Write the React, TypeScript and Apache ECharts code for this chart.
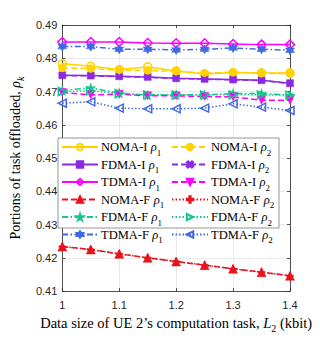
import React, { useEffect, useRef } from "react";
import * as echarts from "echarts";

const xs = [1, 1.05, 1.1, 1.15, 1.2, 1.25, 1.3, 1.35, 1.4];
const xTicks = [1, 1.1, 1.2, 1.3, 1.4];
const yTicks = [0.41, 0.42, 0.43, 0.44, 0.45, 0.46, 0.47, 0.48, 0.49];

const nomaI1 = [0.4784, 0.4776, 0.4766, 0.4774, 0.4762, 0.4753, 0.4757, 0.4756, 0.4756];
const nomaI2 = [0.4771, 0.4769, 0.4764, 0.4763, 0.4761, 0.4755, 0.4758, 0.4755, 0.4754];
const fdmaI1 = [0.4749, 0.4748, 0.4746, 0.4744, 0.474, 0.4738, 0.4736, 0.4734, 0.4725];
const fdmaI2 = [0.4748, 0.4747, 0.4745, 0.4743, 0.4739, 0.4737, 0.4735, 0.4733, 0.4724];
const tdmaI1 = [0.4849, 0.4849, 0.4849, 0.4846, 0.4845, 0.4845, 0.4843, 0.4841, 0.4841];
const tdmaI2 = [0.4697, 0.469, 0.4692, 0.4687, 0.4687, 0.4685, 0.4684, 0.4674, 0.4674];
const nomaF1 = [0.4234, 0.4225, 0.4212, 0.42, 0.4189, 0.4178, 0.4167, 0.4157, 0.4146];
const nomaF2 = [0.4234, 0.4225, 0.4212, 0.42, 0.4189, 0.4178, 0.4167, 0.4157, 0.4146];
const fdmaF1 = [0.4703, 0.4711, 0.4695, 0.4689, 0.469, 0.469, 0.4694, 0.4694, 0.4689];
const fdmaF2 = [0.47, 0.4702, 0.4694, 0.469, 0.469, 0.469, 0.469, 0.469, 0.4689];
const tdmaF1 = [0.4835, 0.4835, 0.4827, 0.4827, 0.4825, 0.4827, 0.4831, 0.4827, 0.4824];
const tdmaF2 = [0.4665, 0.4669, 0.465, 0.4648, 0.4648, 0.465, 0.4663, 0.4653, 0.4643];

const C_NOMA_I = "#FFD200";
const C_FDMA_I = "#8A2BE2";
const C_TDMA_I = "#FF00FF";
const C_NOMA_F = "#E8141E";
const C_FDMA_F = "#14C88C";
const C_TDMA_F = "#4169E1";

const SOLID: any = "solid";
const DASH = [6, 3];
const DOT = [1.5, 2];
const DASHDOT = [6, 2.5, 1.5, 2.5];

const P_X = "path://M2,0 L5,3 L8,0 L10,2 L7,5 L10,8 L8,10 L5,7 L2,10 L0,8 L3,5 L0,2 Z";
const P_PLUS = "path://M4,0 H6 V4 H10 V6 H6 V10 H4 V6 H0 V4 H4 Z";
const P_HEX = "path://M5,0 L6.44,2.5 L9.33,2.5 L7.89,5 L9.33,7.5 L6.44,7.5 L5,10 L3.56,7.5 L0.67,7.5 L2.11,5 L0.67,2.5 L3.56,2.5 Z";
const P_STAR = "path://M5,0 L6.18,3.6 L10,3.6 L6.9,5.8 L8.1,9.5 L5,7.2 L1.9,9.5 L3.1,5.8 L0,3.6 L3.82,3.6 Z";

function mk(name: string, data: number[], color: string, lineType: any, symbol: string, size: number, open: boolean, rotate = 0) {
  return {
    name,
    type: "line",
    data: xs.map((x, i) => [x, data[i]]),
    color,
    symbol,
    symbolSize: size,
    symbolRotate: rotate,
    showAllSymbol: true,
    clip: false,
    lineStyle: { color, width: 1.5, type: lineType },
    itemStyle: open
      ? { color: "rgba(255,255,255,0)", borderColor: color, borderWidth: 1.5 }
      : { color, borderColor: color, borderWidth: 0.5 },
    emphasis: { disabled: true },
  };
}

const series = [
  mk("NOMA-I ρ1", nomaI1, C_NOMA_I, SOLID, "circle", 8, true),
  mk("FDMA-I ρ1", fdmaI1, C_FDMA_I, SOLID, "rect", 7, false),
  mk("TDMA-I ρ1", tdmaI1, C_TDMA_I, SOLID, "diamond", 9, true),
  mk("NOMA-F ρ1", nomaF1, C_NOMA_F, DASH, "triangle", 9, false),
  mk("FDMA-F ρ1", fdmaF1, C_FDMA_F, DASHDOT, P_STAR, 10, false),
  mk("TDMA-F ρ1", tdmaF1, C_TDMA_F, DASHDOT, P_HEX, 9, false),
  mk("NOMA-I ρ2", nomaI2, C_NOMA_I, DASH, "circle", 8, false),
  mk("FDMA-I ρ2", fdmaI2, C_FDMA_I, DASH, P_X, 6, false),
  mk("TDMA-I ρ2", tdmaI2, C_TDMA_I, DASH, "triangle", 8, false, 180),
  mk("NOMA-F ρ2", nomaF2, C_NOMA_F, DOT, P_PLUS, 7, false),
  mk("FDMA-F ρ2", fdmaF2, C_FDMA_F, DOT, "triangle", 8, true, -90),
  mk("TDMA-F ρ2", tdmaF2, C_TDMA_F, DOT, "triangle", 8, true, 90),
];

const legend1 = ["NOMA-I ρ1", "FDMA-I ρ1", "TDMA-I ρ1", "NOMA-F ρ1", "FDMA-F ρ1", "TDMA-F ρ1"];
const legend2 = ["NOMA-I ρ2", "FDMA-I ρ2", "TDMA-I ρ2", "NOMA-F ρ2", "FDMA-F ρ2", "TDMA-F ρ2"];

const SERIF = "'Liberation Serif', 'DejaVu Serif', serif";
const SANS = "'Liberation Sans', Arial, sans-serif";
const AX = "#262626";

const richLegend = {
  t: { fontFamily: SERIF, fontSize: 12.5, color: "#000", verticalAlign: "middle", lineHeight: 14 },
  i: { fontFamily: SERIF, fontSize: 12.5, fontStyle: "italic", color: "#000", verticalAlign: "middle", lineHeight: 14 },
  s: { fontFamily: SERIF, fontSize: 9, color: "#000", verticalAlign: "bottom", lineHeight: 14, padding: [0, 0, -3, 0] },
};

function legendFmt(name: string) {
  const [a, b] = name.split(" ");
  return `{t|${a}} {i|ρ}{s|${b.slice(1)}}`;
}

function mkLegend(data: string[], left: number) {
  return {
    data,
    orient: "vertical",
    left,
    top: 140,
    padding: 0,
    itemGap: 0.5,
    itemWidth: 36,
    itemHeight: 8,
    formatter: legendFmt,
    textStyle: { rich: richLegend, lineHeight: 14, padding: [0, 0, 0, -2] },
    selectedMode: false,
    z: 5,
  };
}

export default function App() {
  const ref = useRef<HTMLDivElement>(null);
  useEffect(() => {
    if (!ref.current) return;
    const chart = echarts.init(ref.current, null, { renderer: "svg" });
    const baseX = {
      type: "value",
      min: xTicks[0],
      max: xTicks[xTicks.length - 1],
      interval: 0.1,
    };
    const baseY = {
      type: "value",
      min: yTicks[0],
      max: yTicks[yTicks.length - 1],
      interval: 0.01,
    };
    chart.setOption({
      animation: false,
      backgroundColor: "#fff",
      grid: { left: 47, right: 30, top: 25, bottom: 38, containLabel: false },
      xAxis: [
        {
          ...baseX,
          position: "bottom",
          name: "Data size of UE 2’s computation task, {i|L}{s|2} (kbit)",
          nameLocation: "middle",
          nameGap: 20,
          nameTextStyle: {
            fontFamily: SERIF,
            fontSize: 14.5,
            color: "#000",
            rich: {
              i: { fontFamily: SERIF, fontSize: 14.5, fontStyle: "italic", color: "#000" },
              s: { fontFamily: SERIF, fontSize: 10, color: "#000", verticalAlign: "bottom", padding: [0, 0, -3, 0] },
            },
          },
          axisLine: { show: true, lineStyle: { color: AX, width: 0.8 } },
          axisTick: { show: true, inside: true, length: 3, lineStyle: { color: AX, width: 0.8 } },
          axisLabel: {
            color: AX,
            fontFamily: SANS,
            fontSize: 11,
            margin: 8,
            formatter: (v: number) => String(Math.round(v * 10) / 10),
          },
          splitLine: { show: true, lineStyle: { color: "#e4e4e4", width: 0.8 } },
        },
        {
          ...baseX,
          position: "top",
          axisLine: { show: true, lineStyle: { color: AX, width: 0.8 } },
          axisTick: { show: true, inside: true, length: 3, lineStyle: { color: AX, width: 0.8 } },
          axisLabel: { show: false },
          splitLine: { show: false },
        },
      ],
      yAxis: [
        {
          ...baseY,
          position: "left",
          name: "Portions of task offloaded, {i|ρ}{s|k}",
          nameLocation: "middle",
          nameGap: 28,
          nameTextStyle: {
            fontFamily: SERIF,
            fontSize: 14,
            color: "#000",
            rich: {
              i: { fontFamily: SERIF, fontSize: 14, fontStyle: "italic", color: "#000" },
              s: { fontFamily: SERIF, fontSize: 10, fontStyle: "italic", color: "#000", verticalAlign: "bottom", padding: [0, 0, -3, 0] },
            },
          },
          axisLine: { show: true, lineStyle: { color: AX, width: 0.8 } },
          axisTick: { show: true, inside: true, length: 3, lineStyle: { color: AX, width: 0.8 } },
          axisLabel: {
            color: AX,
            fontFamily: SANS,
            fontSize: 11,
            margin: 5,
            formatter: (v: number) => (Math.round(v * 100) / 100).toFixed(2),
          },
          splitLine: { show: true, lineStyle: { color: "#e4e4e4", width: 0.8 } },
        },
        {
          ...baseY,
          position: "right",
          axisLine: { show: true, lineStyle: { color: AX, width: 0.8 } },
          axisTick: { show: true, inside: true, length: 3, lineStyle: { color: AX, width: 0.8 } },
          axisLabel: { show: false },
          splitLine: { show: false },
        },
      ],
      legend: [mkLegend(legend1, 61), mkLegend(legend2, 171)],
      graphic: [
        {
          type: "rect",
          z: 3,
          shape: { x: 58, y: 138, width: 221, height: 90 },
          style: { fill: "#fff", stroke: "#7a7a7a", lineWidth: 0.8 },
        },
      ],
      series,
    });
    return () => chart.dispose();
  }, []);
  return (
    <div
      ref={ref}
      style={{ position: "fixed", left: 0, top: 0, width: 320, height: 338 }}
    />
  );
}
